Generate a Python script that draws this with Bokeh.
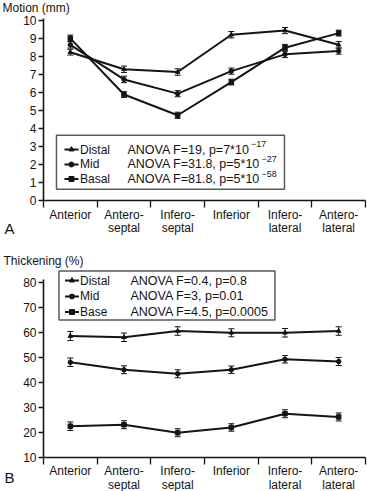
from bokeh.plotting import figure
from bokeh.models import ColumnDataSource, Whisker, TeeHead, FixedTicker, Range1d, LinearAxis
from bokeh.layouts import column
from bokeh.core.properties import value
from bokeh.embed import file_html
from bokeh.resources import INLINE

# ---------------- data ----------------
segments = ["Anterior", "Antero-\nseptal", "Infero-\nseptal", "Inferior", "Infero-\nlateral", "Antero-\nlateral"]

motion_distal = [8.23, 7.28, 7.13, 9.20, 9.43, 8.64]
motion_distal_err = [0.16, 0.18, 0.18, 0.18, 0.17, 0.18]
motion_mid = [8.64, 6.72, 5.93, 7.18, 8.11, 8.29]
motion_mid_err = [0.18, 0.18, 0.17, 0.17, 0.18, 0.17]
motion_basal = [9.00, 5.88, 4.73, 6.57, 8.48, 9.29]
motion_basal_err = [0.18, 0.16, 0.17, 0.16, 0.18, 0.16]
motion_yticks = [0, 1, 2, 3, 4, 5, 6, 7, 8, 9, 10]
motion_legend = ["Distal", "Mid", "Basal"]
motion_anova = ["ANOVA F=19, p=7*10", "ANOVA F=31.8, p=5*10", "ANOVA F=81.8, p=5*10"]
motion_exp = ["\u221217", "\u221227", "\u221258"]

thick_distal = [58.5, 58.0, 60.5, 59.8, 59.8, 60.5]
thick_distal_err = [1.8, 1.7, 1.7, 1.6, 1.7, 1.7]
thick_mid = [48.0, 45.0, 43.4, 45.0, 49.2, 48.3]
thick_mid_err = [1.7, 1.6, 1.6, 1.5, 1.5, 1.6]
thick_base = [22.4, 23.0, 19.8, 21.9, 27.4, 26.1]
thick_base_err = [1.7, 1.6, 1.6, 1.5, 1.6, 1.6]
thick_yticks = [10, 20, 30, 40, 50, 60, 70, 80]
thick_legend = ["Distal", "Mid", "Base"]
thick_anova = ["ANOVA F=0.4, p=0.8", "ANOVA F=3, p=0.01", "ANOVA F=4.5, p=0.0005"]

markers = ["triangle", "circle", "square"]

FONT = "Liberation Sans"
INK = "#141414"
xs = list(range(1, len(segments) + 1))
bounds_x = [i + 0.5 for i in range(len(segments) + 1)]
X_RANGE = (-0.3012, 6.5373)


def make_fig(height, yr, yticks, ybounds, xloc):
    p = figure(width=367, height=height, x_range=Range1d(*X_RANGE), y_range=Range1d(*yr),
               output_backend="svg", toolbar_location=None, x_axis_type=None, y_axis_type=None,
               min_border_left=0, min_border_right=0, min_border_top=0, min_border_bottom=0)
    p.outline_line_color = None
    p.background_fill_color = "white"
    p.border_fill_color = "white"
    xaxis = LinearAxis(ticker=FixedTicker(ticks=xs, minor_ticks=bounds_x),
                       major_label_overrides={i + 1: s for i, s in enumerate(segments)},
                       fixed_location=xloc, bounds=(bounds_x[0], bounds_x[-1]))
    xaxis.major_tick_out = 0
    xaxis.major_tick_in = 0
    xaxis.minor_tick_out = 7
    xaxis.minor_tick_in = 0
    xaxis.minor_tick_line_width = 1.3
    xaxis.minor_tick_line_color = INK
    xaxis.axis_line_width = 1.6
    xaxis.axis_line_color = INK
    xaxis.major_label_text_font = FONT
    xaxis.major_label_text_font_size = "12px"
    xaxis.major_label_text_color = INK
    xaxis.major_label_text_line_height = 0.95
    xaxis.major_label_standoff = 0
    p.add_layout(xaxis, "below")
    yaxis = LinearAxis(ticker=FixedTicker(ticks=yticks, minor_ticks=[]), bounds=ybounds,
                       fixed_location=bounds_x[0])
    yaxis.major_tick_out = 5
    yaxis.major_tick_in = 0
    yaxis.minor_tick_out = 0
    yaxis.minor_tick_in = 0
    yaxis.major_tick_line_width = 1.3
    yaxis.major_tick_line_color = INK
    yaxis.axis_line_width = 1.6
    yaxis.axis_line_color = INK
    yaxis.major_label_text_font = FONT
    yaxis.major_label_text_font_size = "12px"
    yaxis.major_label_text_color = INK
    yaxis.major_label_standoff = 2
    p.add_layout(yaxis, "left")
    return p


def add_series(p, ys, errs, marker):
    src = ColumnDataSource(dict(x=xs, y=ys,
                                lo=[a - b for a, b in zip(ys, errs)],
                                hi=[a + b for a, b in zip(ys, errs)]))
    p.line("x", "y", source=src, line_color=INK, line_width=2)
    w = Whisker(source=src, base="x", lower="lo", upper="hi", line_color=INK, line_width=1,
                lower_head=TeeHead(size=6, line_color=INK, line_width=1),
                upper_head=TeeHead(size=6, line_color=INK, line_width=1))
    p.add_layout(w)
    p.scatter("x", "y", source=src, marker=marker, size=4.5, fill_color=INK, line_color=INK)


def add_text(p, x, y, txt, size="12px", align="left"):
    p.text(x=[x], y=[y], text=[txt], text_font=value(FONT), text_font_size=value(size),
           text_baseline="middle", text_align=align, text_color=INK)


def add_legend(p, box, rows, line_x, text_x, anova_x, names, anova, exps=None, exp_x=None, exp_dy=0):
    l, r, b, t = box
    p.quad(left=[l], right=[r], bottom=[b], top=[t], fill_color="white",
           line_color="#5a5a5a", line_width=1.5)
    for yy, m in zip(rows, markers):
        p.line(x=list(line_x), y=[yy, yy], line_color=INK, line_width=2)
        p.scatter(x=[(line_x[0] + line_x[1]) / 2], y=[yy], marker=m, size=5,
                  fill_color=INK, line_color=INK)
    p.text(x=[text_x] * 3, y=rows, text=names, text_font=value(FONT),
           text_font_size=value("12px"), text_baseline="middle", text_color=INK)
    p.text(x=[anova_x] * 3, y=rows, text=anova, text_font=value(FONT),
           text_font_size=value("12.5px"), text_baseline="middle", text_color=INK)
    if exps:
        p.text(x=exp_x, y=[yy + exp_dy for yy in rows], text=exps, text_font=value(FONT),
               text_font_size=value("9px"), text_baseline="middle", text_color=INK)


# ---------------- panel A ----------------
p1 = make_fig(245, (-2.497, 11.099), motion_yticks, (0, 10.1), 0)
for ys, es, m in zip([motion_distal, motion_mid, motion_basal],
                     [motion_distal_err, motion_mid_err, motion_basal_err], markers):
    add_series(p1, ys, es, m)
add_legend(p1, (0.742, 4.99, 0.627, 3.624), [2.830, 2.0, 1.193], (0.891, 1.152), 1.18, 2.065,
           motion_legend, motion_anova, motion_exp, [4.366, 4.562, 4.562], 0.28)
add_text(p1, -0.264, 10.71, "Motion (mm)")
add_text(p1, -0.133, -1.554, "A", size="15px", align="center")

# ---------------- panel B ----------------
p2 = make_fig(246, (-3.727, 94.728), thick_yticks, (10, 81), 10)
for ys, es, m in zip([thick_distal, thick_mid, thick_base],
                     [thick_distal_err, thick_mid_err, thick_base_err], markers):
    add_series(p2, ys, es, m)
add_legend(p2, (0.789, 4.813, 64.91, 84.52), [80.72, 74.32, 68.11], (0.901, 1.161), 1.18, 2.121,
           thick_legend, thick_anova)
add_text(p2, -0.2453, 88.44, "Thickening (%)")
add_text(p2, -0.133, 1.878, "B", size="15px", align="center")

layout = column(p1, p2, spacing=0)
open("out.html", "w").write(file_html(layout, INLINE))
